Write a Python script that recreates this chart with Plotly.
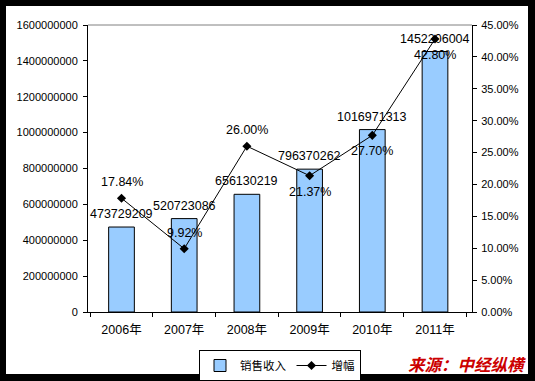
import plotly.graph_objects as go

years = ["2006年", "2007年", "2008年", "2009年", "2010年", "2011年"]
sales = [473729209, 520723086, 656130219, 796370262, 1016971313, 1452206004]
sales_labels = ["473729209", "520723086", "656130219", "796370262", "1016971313", "1452206004"]
growth = [0.1784, 0.0992, 0.2600, 0.2137, 0.2770, 0.4280]
growth_labels = ["17.84%", "9.92%", "26.00%", "21.37%", "27.70%", "42.80%"]

FONT = "Liberation Sans, Arial, Noto Sans CJK SC, sans-serif"
LBL = dict(size=12.5, color="black", family=FONT)

fig = go.Figure()
fig.add_trace(go.Bar(
    x=years, y=sales, name="销售收入",
    marker=dict(color="#99CCFF", line=dict(color="black", width=1)),
    width=0.41,
))
fig.add_trace(go.Scatter(
    x=years, y=growth, name="增幅", yaxis="y2",
    mode="lines+markers",
    line=dict(color="black", width=1),
    marker=dict(symbol="diamond", size=7, color="black"),
    cliponaxis=False,
))

L, R, T, B = 88, 472, 25, 312
pw, ph = R - L, B - T
def px(x): return (x - L) / pw
def py(y): return (B - y) / ph

annotations = [
    dict(x=x, y=v, xref="x", yref="y", text=t, showarrow=False, yanchor="middle",
         yshift=13, font=LBL)
    for x, v, t in zip(years, sales, sales_labels)
]
# growth labels: first three above the point, last three below
for i, (x, v, t) in enumerate(zip(years, growth, growth_labels)):
    annotations.append(dict(x=x, y=v, xref="x", yref="y2", text=t, showarrow=False,
                            yanchor="middle", yshift=16 if i < 3 else -16, font=LBL))
annotations.append(
    dict(text="<b><i>来源：中经纵横</i></b>", xref="paper", yref="paper",
         x=px(528), y=py(378), xanchor="right", yanchor="bottom", showarrow=False,
         font=dict(size=16.5, color="#CC0000", family="Noto Sans CJK SC")))

fig.update_layout(
    width=535, height=381,
    margin=dict(l=L, r=535 - R, t=T, b=381 - B, autoexpand=False),
    paper_bgcolor="black", plot_bgcolor="white",
    font=dict(family=FONT, size=11, color="black"),
    showlegend=True,
    legend=dict(orientation="h", x=0.5, xanchor="center", y=py(350), yanchor="top",
                bordercolor="black", borderwidth=1, bgcolor="white",
                font=dict(size=11.5, family=FONT), itemwidth=30,
                tracegroupgap=0),
    xaxis=dict(showline=True, linecolor="black", linewidth=1, ticks="outside",
               tickson="boundaries", ticklen=4, tickcolor="black",
               tickfont=dict(size=12.5), showgrid=False, ticklabelstandoff=6),
    yaxis=dict(range=[0, 1.6e9], dtick=2e8, tickformat="d", showline=True,
               linecolor="black", linewidth=1, ticks="outside", ticklen=4,
               tickcolor="black", showgrid=False, zeroline=False, tickfont=dict(size=11),
               ticklabelstandoff=3),
    yaxis2=dict(range=[0, 0.45], dtick=0.05, tickformat=".2%", overlaying="y",
                side="right", showline=True, linecolor="black", linewidth=1,
                ticks="outside", ticklen=4, tickcolor="black", showgrid=False,
                zeroline=False, tickfont=dict(size=11), ticklabelstandoff=2),
    shapes=[
        dict(type="rect", xref="paper", yref="paper", x0=px(6), x1=px(528),
             y0=py(374), y1=py(6), fillcolor="white", line=dict(width=0), layer="below"),
        dict(type="line", xref="paper", yref="paper", x0=0, x1=1, y0=1, y1=1,
             line=dict(color="#808080", width=1)),
    ],
    annotations=annotations,
)

fig.write_html("out.html", config={"displayModeBar": False},
               post_script="document.body.style.margin='0';document.body.style.background='black';")
